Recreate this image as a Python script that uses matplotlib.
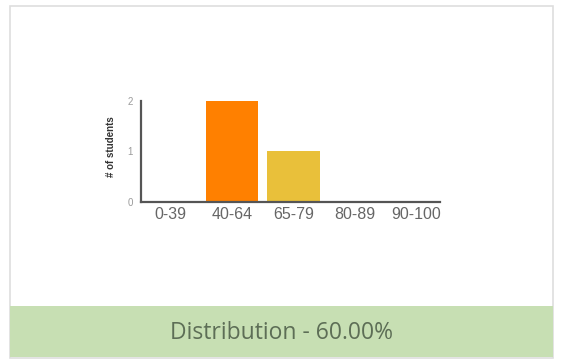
import matplotlib.pyplot as plt
from matplotlib.patches import Rectangle

# score bands and number of students in each
bands = ['0-39', '40-64', '65-79', '80-89', '90-100']
students = [0, 2, 1, 0, 0]
barColours = ['#ff8000', '#ff8000', '#e9c03a', '#e9c03a', '#e9c03a']
yTicks = [0, 1, 2]
footerText = 'Distribution - 60.00%'

W, H = 564, 361
fig = plt.figure(figsize=(W / 100, H / 100), dpi=100)
fig.patch.set_facecolor('white')

# card outline
fig.patches.append(Rectangle((10 / W, 1 - 358 / H), 543 / W, 352 / H,
                             transform=fig.transFigure, facecolor='white',
                             edgecolor='#dedede', linewidth=1.2, zorder=-2))
# footer strip
fig.patches.append(Rectangle((10 / W, 1 - 357 / H), 543 / W, 51 / H,
                             transform=fig.transFigure, facecolor='#c7dfb3',
                             edgecolor='none', zorder=-1))
fig.text(281 / W, 1 - 339 / H, footerText, ha='center', va='baseline',
         fontsize=16.5, family='Open Sans', color='#5d6e56')

ax = fig.add_axes([141 / W, 1 - 201.5 / H, 299 / W, 100.5 / H])
ax.set_zorder(2)
ax.patch.set_alpha(0)
x = list(range(len(bands)))
ax.bar(x, students, width=0.85, color=barColours, zorder=1)

ax.set_xlim(-0.48, 4.38)
ax.set_ylim(0, 2)
ax.set_xticks(x)
ax.set_xticklabels(bands, family='Liberation Sans', fontsize=11.5, color='#666666')
ax.set_yticks(yTicks)
ax.set_yticklabels([str(t) for t in yTicks], family='Liberation Sans',
                   fontsize=7, color='#9a9a9a')
ax.tick_params(axis='both', length=0)
ax.tick_params(axis='x', pad=4)
ax.tick_params(axis='y', pad=6)

for side in ['top', 'right']:
    ax.spines[side].set_visible(False)
for side in ['left', 'bottom']:
    ax.spines[side].set_color('#555555')
    ax.spines[side].set_linewidth(1.6)
    ax.spines[side].set_zorder(3)

ax.set_ylabel('# of students', family='Liberation Sans', fontsize=7,
              fontweight='bold', color='#333333')
ax.yaxis.set_label_coords(-0.083, 0.55)

fig.savefig('out.png', dpi=100)
